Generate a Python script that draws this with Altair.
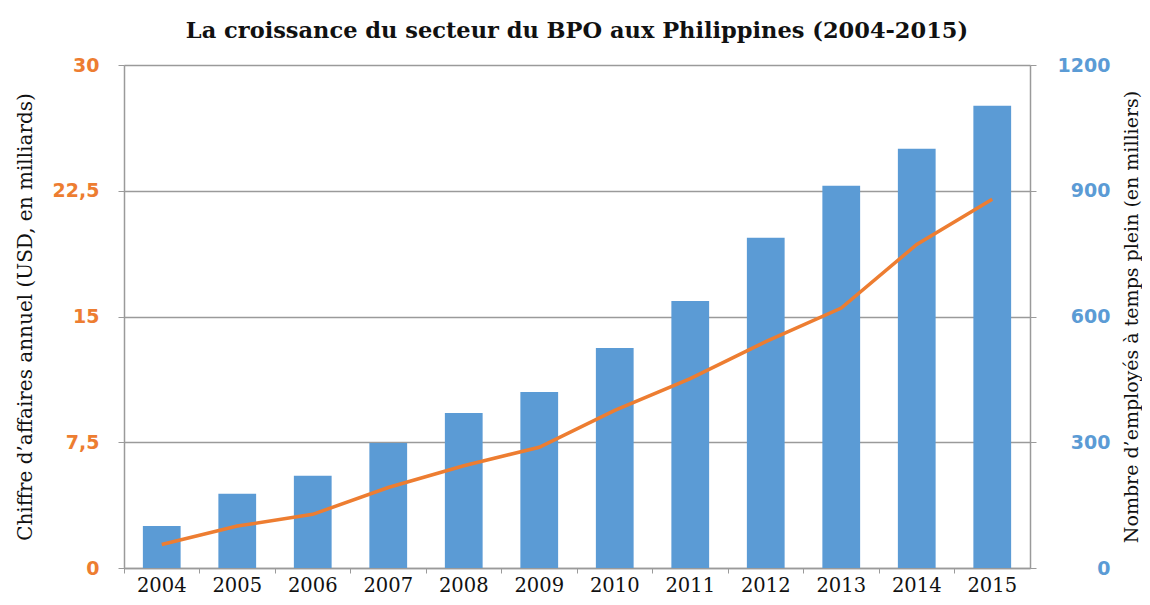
import altair as alt
import pandas as pd

years = ["2004", "2005", "2006", "2007", "2008", "2009", "2010", "2011", "2012", "2013", "2014", "2015"]
employes = [100, 177, 220, 298, 370, 420, 525, 637, 788, 912, 1000, 1103]
chiffre = [1.4, 2.5, 3.2, 4.8, 6.1, 7.2, 9.4, 11.3, 13.5, 15.5, 19.3, 22.0]

df = pd.DataFrame({"annee": years, "employes": employes, "chiffre": chiffre})

W, H = 906, 503
GRID = "#9a9a9a"

x = alt.X("annee:N", sort=years, title=None,
          scale=alt.Scale(paddingInner=0, paddingOuter=0),
          axis=alt.Axis(labelFont="DejaVu Serif", labelFontSize=19.5, labelColor="#111111",
                        labelAngle=0, labelPadding=3, bandPosition=0, ticks=True, tickSize=5,
                        tickColor=GRID, domainColor=GRID, domainWidth=1.5, grid=False))

bars = alt.Chart(df).mark_bar(color="#5B9BD5", width=alt.RelativeBandSize(0.5)).encode(
    x=x,
    y=alt.Y("employes:Q", scale=alt.Scale(domain=[0, 1200], nice=False),
            axis=alt.Axis(orient="right", values=[0, 300, 600, 900, 1200], format="d", grid=False,
                          title="Nombre d\u2019employés à temps plein (en milliers)",
                          titleFont="DejaVu Serif", titleFontSize=19, titleFontWeight="normal",
                          titleColor="#111111", titleAngle=270, titleX=101, titleY=H / 2,
                          titleAlign="center", titleBaseline="middle",
                          labelFont="DejaVu Sans", labelFontSize=19, labelFontWeight="bold",
                          labelColor="#5B9BD5", labelAlign="right", labelPadding=74,
                          tickSize=6, tickColor=GRID, domainColor=GRID, domainWidth=1.5)),
)

line = alt.Chart(df).mark_line(color="#ED7D31", strokeWidth=3.5).encode(
    x=x,
    y=alt.Y("chiffre:Q", scale=alt.Scale(domain=[0, 30], nice=False),
            axis=alt.Axis(orient="left", values=[0, 7.5, 15, 22.5, 30], format=",.1~f",
                          labelExpr="replace(datum.label, '.', ',')",
                          grid=True, gridColor=GRID, gridWidth=1.5,
                          title="Chiffre d\u2019affaires annuel (USD, en milliards)",
                          titleFont="DejaVu Serif", titleFontSize=20, titleFontWeight="normal",
                          titleColor="#111111", titleAngle=270, titleX=-99, titleY=H / 2,
                          titleAlign="center", titleBaseline="middle",
                          labelFont="DejaVu Sans", labelFontSize=19, labelFontWeight="bold",
                          labelColor="#ED7D31", labelPadding=19,
                          tickSize=6, tickColor=GRID, domainColor=GRID, domainWidth=1.5)),
)

chart = alt.layer(bars, line).resolve_scale(y="independent").properties(
    width=W, height=H,
    title=alt.TitleParams("La croissance du secteur du BPO aux Philippines (2004-2015)",
                          font="DejaVu Serif", fontSize=22.5, fontWeight="bold", color="#111111",
                          anchor="middle", offset=14),
    autosize=alt.AutoSizeParams(type="none"),
    padding={"left": 116, "top": 57, "right": 112, "bottom": 29},
).configure_view(stroke=None).configure(background="white")

chart.save("out.html", embed_options={"renderer": "svg", "actions": False})
